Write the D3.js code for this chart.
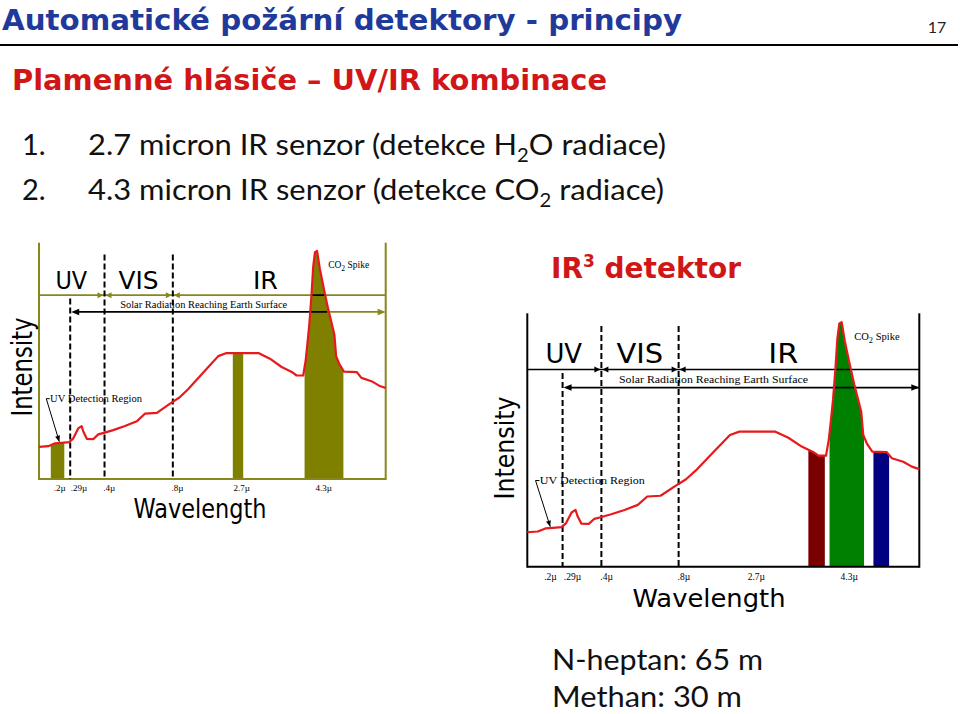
<!DOCTYPE html>
<html><head><meta charset="utf-8">
<script src="https://cdn.jsdelivr.net/npm/d3@7"></script>
<style>html,body{margin:0;padding:0;background:#fff;} svg{display:block}</style>
</head><body>
<svg id="slide" width="960" height="714"></svg>
<script>
// ================= DATA =================
// axis units: 0..100 across the plot frame (wavelength axis is not linear in the source figure)
const wavelengthTickLabels = [".2µ", ".29µ", ".4µ", ".8µ", "2.7µ", "4.3µ"];
const wavelengthTickPos    = [5.8, 11.4, 20.1, 39.8, 58.3, 82.0];
const regionBounds = [9.0, 18.9, 38.6];          // .29µ, .4µ, .8µ boundaries
const regionNames  = ["UV", "VIS", "IR"];
const regionCenters = [9.3, 28.7, 65.3];

// spectrum (relative intensity, 0..100 of frame height)
const spectrumX = [0, 2.7, 4.6, 6.5, 8.7, 9.9, 11.3, 12.3, 12.8, 13.8, 15.7, 17.1, 18.7, 21.4, 24.8, 28.2,
  30.6, 34.0, 37.8, 40.5, 43.0, 46.4, 49.3, 51.7, 54.1, 63.3, 66.6, 70.0, 72.9, 74.3, 76.2, 76.9, 77.4,
  78.0, 78.6, 79.1, 79.6, 80.2, 81.0, 82.3, 83.4, 84.4, 85.2, 85.7, 86.6, 88.0, 91.7, 93.0, 95.9, 98.1, 100];
const spectrumIntensity = [13.6, 13.9, 15.1, 15.3, 15.6, 17.2, 21.4, 22.4, 20.0, 17.0, 16.9, 18.9, 19.5, 20.7, 22.4, 24.4,
  27.7, 28.0, 31.9, 34.5, 38.0, 43.5, 48.1, 52.0, 53.3, 53.3, 50.9, 47.4, 45.3, 43.8, 43.8, 50, 57,
  66, 78, 90, 96, 96.5, 89, 79.5, 72, 66, 61, 52, 48.7, 45.4, 45.2, 42.8, 41.4, 39.5, 38.5];

// detection bands
const leftBandStart  = [3.4, 55.9, 76.6];
const leftBandEnd    = [7.3, 58.9, 87.8];
const rightBandStart = [71.7, 77.1, 88.3];
const rightBandEnd   = [75.9, 85.9, 92.3];

// ================= STYLE / LAYOUT =================
const OLIVE = "#808000", OLIVE_LINE = "#87871c", RED = "#e8191c";
const leftBandColors = [OLIVE, OLIVE, OLIVE];
const rightBandColors = ["#7a0000", "#008000", "#000080"];

const svg = d3.select("#slide");
const spectrum = spectrumX.map((v, i) => [v, spectrumIntensity[i]]);

function interp(xv) {
  for (let i = 0; i < spectrum.length - 1; i++) {
    const a = spectrum[i], b = spectrum[i + 1];
    if (xv >= a[0] && xv <= b[0]) return a[1] + (b[1] - a[1]) * (xv - a[0]) / (b[0] - a[0]);
  }
  return spectrum[spectrum.length - 1][1];
}
function bandPoints(s, e) {
  const pts = [[s, interp(s)]];
  spectrum.forEach(p => { if (p[0] > s && p[0] < e) pts.push(p); });
  pts.push([e, interp(e)]);
  return pts;
}

function drawChart(cfg, starts, ends, colors) {
  const x = d3.scaleLinear().domain([0, 100]).range([cfg.x0, cfg.x1]);
  const y = d3.scaleLinear().domain([0, 100]).range([cfg.yBot, cfg.yTop]);
  const g = svg.append("g");
  const lc = cfg.lineColor;
  const area = d3.area().x(d => x(d[0])).y0(y(0)).y1(d => y(d[1]));

  // bands under the spectrum
  const bands = starts.map((s, i) => ({ s, e: ends[i], color: colors[i], pts: bandPoints(s, ends[i]) }));
  g.selectAll("path.band").data(bands).join("path").attr("class", "band")
    .attr("d", d => area(d.pts)).attr("fill", d => d.color);

  const line = (x1, y1, x2, y2, col, w = 2) => g.append("line")
    .attr("x1", x1).attr("y1", y1).attr("x2", x2).attr("y2", y2)
    .attr("stroke", col).attr("stroke-width", w);
  const head = (tx, ty, dir, col, len = 7, half = 3.2) => g.append("path")
    .attr("d", `M${tx},${ty}L${tx - dir * len},${ty - half}L${tx - dir * len},${ty + half}Z`).attr("fill", col);

  // frame
  line(cfg.x0, cfg.yTop, cfg.x0, cfg.yBot + 1, lc);
  line(cfg.x1, cfg.yTop, cfg.x1, cfg.yBot + 1, lc);
  line(cfg.x0, cfg.yBot, cfg.x1, cfg.yBot, lc);
  // region separator line
  const yTopLine = y(77.8);
  line(cfg.x0, yTopLine, cfg.x1, yTopLine, lc, 1.6);
  // black part of lines inside spike (left picture artefact)
  if (cfg.spikeBlack) {
    const id = "clip" + Math.round(cfg.x0);
    g.append("clipPath").attr("id", id).append("path").attr("d", area(bands[2].pts));
    g.append("line").attr("x1", cfg.x0).attr("x2", cfg.x1).attr("y1", yTopLine).attr("y2", yTopLine)
      .attr("stroke", "#000").attr("stroke-width", 1.6).attr("clip-path", `url(#${id})`);
  }
  // arrowheads at region boundaries on separator line
  [regionBounds[1], regionBounds[2]].forEach(b => {
    head(x(b) - 1, yTopLine, 1, lc, 6, 3);
    head(x(b) + 1, yTopLine, -1, lc, 6, 3);
  });
  // dashed boundaries
  regionBounds.forEach((b, i) => {
    g.append("line").attr("x1", x(b)).attr("x2", x(b))
      .attr("y1", i === 0 ? y(76.4) : y(95)).attr("y2", cfg.yBot)
      .attr("stroke", "#000").attr("stroke-width", 2).attr("stroke-dasharray", "6,3");
  });
  // solar radiation arrow
  const yArrow = y(70.7);
  line(x(regionBounds[0]) + 4, yArrow, x(cfg.arrowSplit), yArrow, "#000", 1.8);
  if (cfg.arrowSplit < 100) line(x(cfg.arrowSplit), yArrow, cfg.x1 - 4, yArrow, lc, 1.8);
  head(x(regionBounds[0]) + 1, yArrow, -1, "#000", 8, 3.2);
  head(cfg.x1, yArrow, 1, lc, 8, 3.2);

  // spectrum curve
  g.append("path").datum(spectrum)
    .attr("d", d3.line().x(d => x(d[0])).y(d => y(d[1])))
    .attr("fill", "none").attr("stroke", RED).attr("stroke-width", 2.2).attr("stroke-linejoin", "round");

  // region names
  g.selectAll("text.reg").data(regionNames).join("text").attr("class", "reg")
    .attr("x", (d, i) => x(regionCenters[i])).attr("y", y(80.5))
    .attr("text-anchor", "middle").attr("font-family", "DejaVu Sans, sans-serif")
    .attr("font-size", cfg.regFont).attr("fill", "#000")
    .attr("textLength", (d, i) => cfg.regW[i]).attr("lengthAdjust", "spacingAndGlyphs")
    .text(d => d);

  const serif = "Liberation Serif, Times New Roman, serif";
  g.append("text").attr("x", x(47.5)).attr("y", y(72.4)).attr("text-anchor", "middle")
    .attr("font-family", serif).attr("font-size", cfg.solarFont)
    .attr("textLength", cfg.solarW).attr("lengthAdjust", "spacingAndGlyphs")
    .text("Solar Radiation Reaching Earth Surface");

  const co2 = g.append("text").attr("x", x(83.4)).attr("y", y(89.4))
    .attr("font-family", serif).attr("font-size", cfg.smallFont);
  co2.append("tspan").text("CO");
  co2.append("tspan").attr("font-size", cfg.smallFont * 0.8).attr("dy", 3).text("2");
  co2.append("tspan").attr("dy", -3).text(" Spike");

  g.append("text").attr("x", x(3.2)).attr("y", y(32.5))
    .attr("font-family", serif).attr("font-size", cfg.smallFont)
    .attr("textLength", cfg.uvdW).attr("lengthAdjust", "spacingAndGlyphs")
    .text("UV Detection Region");
  // pointer to UV detection band
  const p0 = [x(3.1), y(34.0)], p1 = [x(2.1), y(34.0)], p2 = [x(5.85), y(15.8)];
  g.append("path").attr("d", `M${p0}L${p1}L${p2}`).attr("fill", "none").attr("stroke", "#000").attr("stroke-width", 1);
  const ang = Math.atan2(p2[1] - p1[1], p2[0] - p1[0]);
  g.append("path").attr("d", "M0,0L-6,-2.5L-6,2.5Z").attr("fill", "#000")
    .attr("transform", `translate(${p2})rotate(${ang * 180 / Math.PI})`);

  // wavelength axis labels
  const ax = g.append("g").attr("transform", `translate(0,${cfg.yBot + cfg.tickDy})`)
    .call(d3.axisBottom(x).tickValues(wavelengthTickPos)
      .tickFormat(d => wavelengthTickLabels[wavelengthTickPos.indexOf(d)]).tickSize(0).tickPadding(0));
  ax.select(".domain").remove();
  ax.selectAll("text").attr("dy", null).attr("y", 0)
    .attr("font-family", serif).attr("font-size", cfg.tickFont).attr("fill", "#000");

  g.append("text").attr("x", cfg.wlX).attr("y", cfg.yBot + cfg.wlDy).attr("text-anchor", "middle")
    .attr("font-family", "DejaVu Sans, sans-serif").attr("font-size", cfg.wlFont)
    .attr("textLength", cfg.wlW).attr("lengthAdjust", "spacingAndGlyphs").text("Wavelength");

  g.append("text").attr("transform", `translate(${cfg.intX},${cfg.intY})rotate(-90)`)
    .attr("text-anchor", "middle").attr("font-family", "DejaVu Sans, sans-serif").attr("font-size", cfg.intFont)
    .attr("textLength", cfg.intW).attr("lengthAdjust", "spacingAndGlyphs").text("Intensity");
}

drawChart({
  x0: 39, x1: 385.7, yTop: 242.7, yBot: 479, lineColor: OLIVE_LINE, spikeBlack: true, arrowSplit: 83.2,
  regFont: 24, regW: [31.7, 40, 25], solarFont: 10.5, solarW: 167, smallFont: 9.5, uvdW: 92,
  tickFont: 9, tickDy: 11.7, wlX: 200, wlDy: 39.3, wlFont: 27, wlW: 133,
  intX: 31.5, intY: 367, intFont: 28, intW: 99
}, leftBandStart, leftBandEnd, leftBandColors);

drawChart({
  x0: 527.3, x1: 919.3, yTop: 313.3, yBot: 566.7, lineColor: "#000", spikeBlack: false, arrowSplit: 100,
  regFont: 26, regW: [36.7, 46.7, 30], solarFont: 11, solarW: 189, smallFont: 10.5, uvdW: 105,
  tickFont: 9.5, tickDy: 13.3, wlX: 709, wlDy: 40, wlFont: 25.5, wlW: 153,
  intX: 514, intY: 448, intFont: 27, intW: 103
}, rightBandStart, rightBandEnd, rightBandColors);

// ================= SLIDE TEXT =================
const comic = "DejaVu Sans, sans-serif";
svg.append("text").attr("x", 2).attr("y", 30).attr("font-family", comic).attr("font-weight", "bold")
  .attr("font-size", 29).attr("fill", "#1f3a9a").attr("textLength", 680).attr("lengthAdjust", "spacingAndGlyphs")
  .text("Automatické požární detektory - principy");
svg.append("text").attr("x", 937).attr("y", 33).attr("text-anchor", "middle").attr("font-family", "Lato, sans-serif")
  .attr("font-size", 16).attr("fill", "#222").text("17");
svg.append("line").attr("x1", 0).attr("x2", 958).attr("y1", 45).attr("y2", 45).attr("stroke", "#000").attr("stroke-width", 2.2);

svg.append("text").attr("x", 12).attr("y", 90).attr("font-family", comic).attr("font-weight", "bold")
  .attr("font-size", 28).attr("fill", "#d01616").attr("textLength", 595).attr("lengthAdjust", "spacingAndGlyphs")
  .text("Plamenné hlásiče – UV/IR kombinace");

const body = "Lato, sans-serif";
[["1.", "2.7 micron IR senzor (detekce H", "O radiace)", 155, 578],
 ["2.", "4.3 micron IR senzor (detekce CO", " radiace)", 200, 576]].forEach(r => {
  svg.append("text").attr("x", 22).attr("y", r[3]).attr("font-family", body).attr("font-size", 29).attr("fill", "#111").text(r[0]);
  const t = svg.append("text").attr("x", 88).attr("y", r[3]).attr("font-family", body).attr("font-size", 29).attr("fill", "#111")
    .attr("textLength", r[4]).attr("lengthAdjust", "spacingAndGlyphs");
  t.append("tspan").text(r[1]);
  t.append("tspan").attr("font-size", 19).attr("dy", 7).text("2");
  t.append("tspan").attr("dy", -7).text(r[2]);
});

const ir = svg.append("text").attr("x", 551).attr("y", 278).attr("font-family", comic).attr("font-weight", "bold")
  .attr("font-size", 28).attr("fill", "#d01616");
ir.append("tspan").text("IR");
ir.append("tspan").attr("font-size", 17).attr("dy", -11).text("3");
ir.append("tspan").attr("dy", 11).text(" detektor");

svg.append("text").attr("x", 552).attr("y", 670).attr("font-family", body).attr("font-size", 29).attr("fill", "#111")
  .attr("textLength", 211).attr("lengthAdjust", "spacingAndGlyphs").text("N-heptan: 65 m");
svg.append("text").attr("x", 552).attr("y", 707).attr("font-family", body).attr("font-size", 29).attr("fill", "#111")
  .attr("textLength", 190).attr("lengthAdjust", "spacingAndGlyphs").text("Methan: 30 m");
</script>
</body></html>
